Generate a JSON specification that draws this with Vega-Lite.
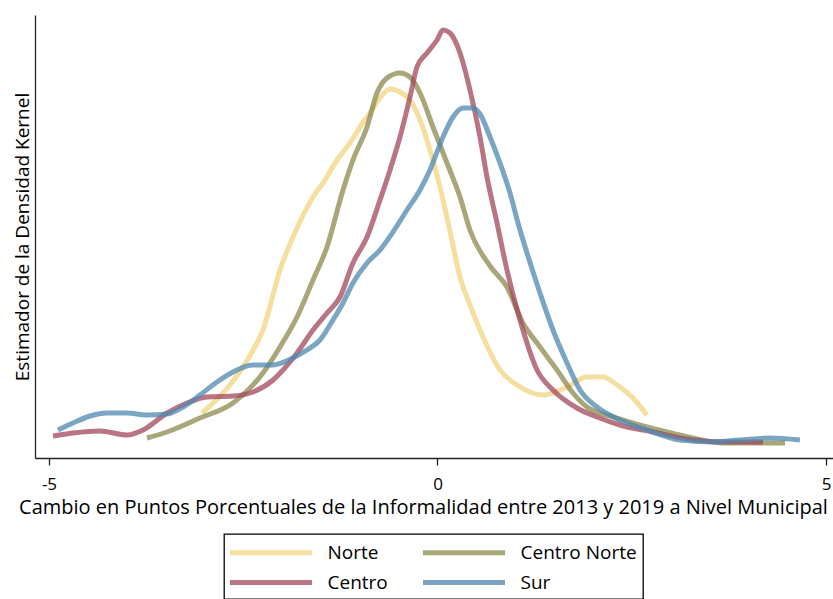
{
  "$schema": "https://vega.github.io/schema/vega-lite/v6.json",
  "description": "Densidad kernel del cambio en informalidad municipal 2013-2019 por region",
  "width": 798,
  "height": 443,
  "autosize": "none",
  "padding": {"left": 35, "top": 15, "right": 0, "bottom": 141},
  "datasets": {
    "kdens": [
      {"region": "Norte", "cambio": -3.031, "densidad": 0.045},
      {"region": "Norte", "cambio": -2.671, "densidad": 0.073},
      {"region": "Norte", "cambio": -2.387, "densidad": 0.106},
      {"region": "Norte", "cambio": -2.246, "densidad": 0.128},
      {"region": "Norte", "cambio": -2.027, "densidad": 0.188},
      {"region": "Norte", "cambio": -1.808, "densidad": 0.230},
      {"region": "Norte", "cambio": -1.602, "densidad": 0.261},
      {"region": "Norte", "cambio": -1.474, "densidad": 0.275},
      {"region": "Norte", "cambio": -1.293, "densidad": 0.298},
      {"region": "Norte", "cambio": -1.126, "densidad": 0.315},
      {"region": "Norte", "cambio": -0.998, "densidad": 0.331},
      {"region": "Norte", "cambio": -0.869, "densidad": 0.345},
      {"region": "Norte", "cambio": -0.740, "densidad": 0.360},
      {"region": "Norte", "cambio": -0.611, "densidad": 0.369},
      {"region": "Norte", "cambio": -0.483, "densidad": 0.366},
      {"region": "Norte", "cambio": -0.354, "densidad": 0.358},
      {"region": "Norte", "cambio": -0.225, "densidad": 0.338},
      {"region": "Norte", "cambio": -0.097, "densidad": 0.308},
      {"region": "Norte", "cambio": 0.032, "densidad": 0.271},
      {"region": "Norte", "cambio": 0.135, "densidad": 0.236},
      {"region": "Norte", "cambio": 0.290, "densidad": 0.181},
      {"region": "Norte", "cambio": 0.418, "densidad": 0.153},
      {"region": "Norte", "cambio": 0.547, "densidad": 0.128},
      {"region": "Norte", "cambio": 0.804, "densidad": 0.088},
      {"region": "Norte", "cambio": 1.023, "densidad": 0.073},
      {"region": "Norte", "cambio": 1.358, "densidad": 0.063},
      {"region": "Norte", "cambio": 1.667, "densidad": 0.071},
      {"region": "Norte", "cambio": 1.923, "densidad": 0.081},
      {"region": "Norte", "cambio": 2.130, "densidad": 0.081},
      {"region": "Norte", "cambio": 2.310, "densidad": 0.073},
      {"region": "Norte", "cambio": 2.516, "densidad": 0.060},
      {"region": "Norte", "cambio": 2.696, "densidad": 0.043},

      {"region": "Centro Norte", "cambio": -3.739, "densidad": 0.020},
      {"region": "Centro Norte", "cambio": -3.481, "densidad": 0.026},
      {"region": "Centro Norte", "cambio": -3.057, "densidad": 0.040},
      {"region": "Centro Norte", "cambio": -2.632, "densidad": 0.055},
      {"region": "Centro Norte", "cambio": -2.246, "densidad": 0.085},
      {"region": "Centro Norte", "cambio": -2.027, "densidad": 0.111},
      {"region": "Centro Norte", "cambio": -1.808, "densidad": 0.141},
      {"region": "Centro Norte", "cambio": -1.602, "densidad": 0.178},
      {"region": "Centro Norte", "cambio": -1.422, "densidad": 0.211},
      {"region": "Centro Norte", "cambio": -1.216, "densidad": 0.268},
      {"region": "Centro Norte", "cambio": -1.088, "densidad": 0.298},
      {"region": "Centro Norte", "cambio": -0.907, "densidad": 0.331},
      {"region": "Centro Norte", "cambio": -0.779, "densidad": 0.365},
      {"region": "Centro Norte", "cambio": -0.650, "densidad": 0.380},
      {"region": "Centro Norte", "cambio": -0.483, "densidad": 0.385},
      {"region": "Centro Norte", "cambio": -0.354, "densidad": 0.381},
      {"region": "Centro Norte", "cambio": -0.225, "densidad": 0.365},
      {"region": "Centro Norte", "cambio": -0.058, "densidad": 0.331},
      {"region": "Centro Norte", "cambio": 0.122, "densidad": 0.295},
      {"region": "Centro Norte", "cambio": 0.290, "densidad": 0.261},
      {"region": "Centro Norte", "cambio": 0.418, "densidad": 0.228},
      {"region": "Centro Norte", "cambio": 0.676, "densidad": 0.192},
      {"region": "Centro Norte", "cambio": 0.894, "densidad": 0.171},
      {"region": "Centro Norte", "cambio": 1.100, "densidad": 0.135},
      {"region": "Centro Norte", "cambio": 1.319, "densidad": 0.111},
      {"region": "Centro Norte", "cambio": 1.538, "densidad": 0.088},
      {"region": "Centro Norte", "cambio": 1.744, "densidad": 0.065},
      {"region": "Centro Norte", "cambio": 1.924, "densidad": 0.051},
      {"region": "Centro Norte", "cambio": 2.310, "densidad": 0.040},
      {"region": "Centro Norte", "cambio": 2.954, "densidad": 0.026},
      {"region": "Centro Norte", "cambio": 3.288, "densidad": 0.020},
      {"region": "Centro Norte", "cambio": 3.674, "densidad": 0.015},
      {"region": "Centro Norte", "cambio": 4.112, "densidad": 0.015},
      {"region": "Centro Norte", "cambio": 4.472, "densidad": 0.015},

      {"region": "Centro", "cambio": -4.949, "densidad": 0.022},
      {"region": "Centro", "cambio": -4.691, "densidad": 0.025},
      {"region": "Centro", "cambio": -4.344, "densidad": 0.027},
      {"region": "Centro", "cambio": -3.996, "densidad": 0.023},
      {"region": "Centro", "cambio": -3.790, "densidad": 0.028},
      {"region": "Centro", "cambio": -3.481, "densidad": 0.045},
      {"region": "Centro", "cambio": -3.224, "densidad": 0.055},
      {"region": "Centro", "cambio": -2.967, "densidad": 0.061},
      {"region": "Centro", "cambio": -2.632, "densidad": 0.062},
      {"region": "Centro", "cambio": -2.413, "densidad": 0.065},
      {"region": "Centro", "cambio": -2.117, "densidad": 0.078},
      {"region": "Centro", "cambio": -1.988, "densidad": 0.088},
      {"region": "Centro", "cambio": -1.808, "densidad": 0.105},
      {"region": "Centro", "cambio": -1.602, "densidad": 0.128},
      {"region": "Centro", "cambio": -1.422, "densidad": 0.145},
      {"region": "Centro", "cambio": -1.255, "densidad": 0.161},
      {"region": "Centro", "cambio": -1.088, "densidad": 0.195},
      {"region": "Centro", "cambio": -0.907, "densidad": 0.221},
      {"region": "Centro", "cambio": -0.740, "densidad": 0.258},
      {"region": "Centro", "cambio": -0.611, "densidad": 0.288},
      {"region": "Centro", "cambio": -0.483, "densidad": 0.321},
      {"region": "Centro", "cambio": -0.354, "densidad": 0.361},
      {"region": "Centro", "cambio": -0.264, "densidad": 0.391},
      {"region": "Centro", "cambio": -0.135, "densidad": 0.405},
      {"region": "Centro", "cambio": -0.006, "densidad": 0.418},
      {"region": "Centro", "cambio": 0.071, "densidad": 0.428},
      {"region": "Centro", "cambio": 0.161, "densidad": 0.425},
      {"region": "Centro", "cambio": 0.290, "densidad": 0.405},
      {"region": "Centro", "cambio": 0.418, "densidad": 0.368},
      {"region": "Centro", "cambio": 0.547, "densidad": 0.321},
      {"region": "Centro", "cambio": 0.637, "densidad": 0.281},
      {"region": "Centro", "cambio": 0.766, "densidad": 0.235},
      {"region": "Centro", "cambio": 0.894, "densidad": 0.188},
      {"region": "Centro", "cambio": 1.062, "densidad": 0.138},
      {"region": "Centro", "cambio": 1.281, "densidad": 0.088},
      {"region": "Centro", "cambio": 1.486, "densidad": 0.068},
      {"region": "Centro", "cambio": 1.795, "densidad": 0.050},
      {"region": "Centro", "cambio": 2.053, "densidad": 0.041},
      {"region": "Centro", "cambio": 2.349, "densidad": 0.033},
      {"region": "Centro", "cambio": 2.773, "densidad": 0.026},
      {"region": "Centro", "cambio": 3.288, "densidad": 0.018},
      {"region": "Centro", "cambio": 3.726, "densidad": 0.016},
      {"region": "Centro", "cambio": 4.189, "densidad": 0.016},

      {"region": "Sur", "cambio": -4.884, "densidad": 0.028},
      {"region": "Sur", "cambio": -4.691, "densidad": 0.035},
      {"region": "Sur", "cambio": -4.472, "densidad": 0.042},
      {"region": "Sur", "cambio": -4.254, "densidad": 0.045},
      {"region": "Sur", "cambio": -3.996, "densidad": 0.045},
      {"region": "Sur", "cambio": -3.739, "densidad": 0.043},
      {"region": "Sur", "cambio": -3.481, "densidad": 0.044},
      {"region": "Sur", "cambio": -3.275, "densidad": 0.051},
      {"region": "Sur", "cambio": -3.057, "densidad": 0.063},
      {"region": "Sur", "cambio": -2.838, "densidad": 0.076},
      {"region": "Sur", "cambio": -2.632, "densidad": 0.086},
      {"region": "Sur", "cambio": -2.375, "densidad": 0.093},
      {"region": "Sur", "cambio": -2.117, "densidad": 0.093},
      {"region": "Sur", "cambio": -1.860, "densidad": 0.100},
      {"region": "Sur", "cambio": -1.680, "densidad": 0.108},
      {"region": "Sur", "cambio": -1.512, "densidad": 0.118},
      {"region": "Sur", "cambio": -1.345, "densidad": 0.138},
      {"region": "Sur", "cambio": -1.216, "densidad": 0.155},
      {"region": "Sur", "cambio": -1.088, "densidad": 0.175},
      {"region": "Sur", "cambio": -0.907, "densidad": 0.195},
      {"region": "Sur", "cambio": -0.740, "densidad": 0.208},
      {"region": "Sur", "cambio": -0.573, "densidad": 0.226},
      {"region": "Sur", "cambio": -0.393, "densidad": 0.248},
      {"region": "Sur", "cambio": -0.225, "densidad": 0.268},
      {"region": "Sur", "cambio": -0.097, "densidad": 0.288},
      {"region": "Sur", "cambio": 0.071, "densidad": 0.321},
      {"region": "Sur", "cambio": 0.199, "densidad": 0.341},
      {"region": "Sur", "cambio": 0.328, "densidad": 0.350},
      {"region": "Sur", "cambio": 0.457, "densidad": 0.350},
      {"region": "Sur", "cambio": 0.547, "densidad": 0.344},
      {"region": "Sur", "cambio": 0.676, "densidad": 0.321},
      {"region": "Sur", "cambio": 0.804, "densidad": 0.295},
      {"region": "Sur", "cambio": 0.933, "densidad": 0.265},
      {"region": "Sur", "cambio": 1.036, "densidad": 0.235},
      {"region": "Sur", "cambio": 1.152, "densidad": 0.205},
      {"region": "Sur", "cambio": 1.319, "densidad": 0.165},
      {"region": "Sur", "cambio": 1.486, "densidad": 0.128},
      {"region": "Sur", "cambio": 1.667, "densidad": 0.095},
      {"region": "Sur", "cambio": 1.834, "densidad": 0.068},
      {"region": "Sur", "cambio": 2.053, "densidad": 0.051},
      {"region": "Sur", "cambio": 2.349, "densidad": 0.038},
      {"region": "Sur", "cambio": 2.696, "densidad": 0.028},
      {"region": "Sur", "cambio": 3.121, "densidad": 0.018},
      {"region": "Sur", "cambio": 3.546, "densidad": 0.016},
      {"region": "Sur", "cambio": 3.893, "densidad": 0.018},
      {"region": "Sur", "cambio": 4.279, "densidad": 0.020},
      {"region": "Sur", "cambio": 4.665, "densidad": 0.018}
    ]
  },
  "data": {"name": "kdens"},
  "mark": {
    "type": "line",
    "interpolate": "monotone",
    "strokeWidth": 5,
    "strokeOpacity": 0.75,
    "strokeCap": "butt",
    "clip": true
  },
  "encoding": {
    "x": {
      "field": "cambio",
      "type": "quantitative",
      "scale": {"domain": [-5.18, 5.09], "nice": false, "zero": false},
      "axis": {
        "values": [-5, 0, 5],
        "labelExpr": "'' + datum.value",
        "grid": false,
        "title": "Cambio en Puntos Porcentuales de la Informalidad entre 2013 y 2019 a Nivel Municipal",
        "titleX": 388,
        "titleAlign": "center",
        "titleFontSize": 20,
        "titlePadding": 5,
        "labelFontSize": 17,
        "labelPadding": 11,
        "tickSize": 7
      }
    },
    "y": {
      "field": "densidad",
      "type": "quantitative",
      "scale": {"domain": [0, 0.443], "nice": false},
      "axis": {
        "grid": false,
        "ticks": false,
        "labels": false,
        "title": "Estimador de la Densidad Kernel",
        "titleFontSize": 19,
        "titlePadding": 3
      }
    },
    "color": {
      "field": "region",
      "type": "nominal",
      "sort": ["Norte", "Centro Norte", "Centro", "Sur"],
      "scale": {
        "domain": ["Norte", "Centro Norte", "Centro", "Sur"],
        "range": ["#F2D37E", "#8C8A4E", "#A3475B", "#4E88B0"]
      },
      "legend": {
        "title": null,
        "orient": "none",
        "legendX": 189,
        "legendY": 519,
        "direction": "horizontal",
        "columns": 2,
        "columnPadding": 25,
        "rowPadding": 7,
        "padding": 6,
        "strokeColor": "#000000",
        "symbolType": "M-4.1,0L4.1,0",
        "symbolSize": 400,
        "symbolStrokeWidth": 5,
        "symbolOpacity": 0.75,
        "symbolOffset": 28.5,
        "labelOffset": 44,
        "labelFontSize": 19,
        "labelLimit": 300
      }
    }
  },
  "config": {
    "font": "Open Sans",
    "view": {"stroke": null},
    "axis": {
      "domainColor": "#222222",
      "domainWidth": 1.3,
      "tickColor": "#222222",
      "tickWidth": 1.3,
      "labelFontSize": 18,
      "labelColor": "#000000",
      "titleFontSize": 18,
      "titleFontWeight": "normal",
      "titleColor": "#000000",
      "labelFont": "Open Sans",
      "titleFont": "Open Sans"
    },
    "legend": {"labelColor": "#000000", "labelFont": "Open Sans", "strokeWidth": 1.3}
  }
}
